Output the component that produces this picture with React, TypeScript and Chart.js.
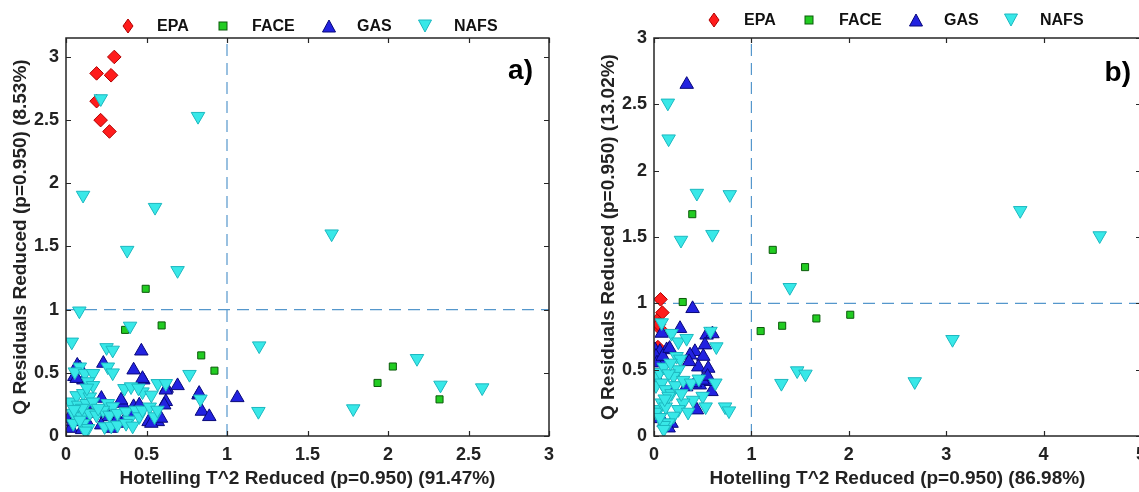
import React, { useEffect, useRef } from "react";
import { Chart, registerables } from "chart.js";
Chart.register(...registerables);

// ---------- Panel a data ----------
const EPA_A_X = [0.3, 0.19, 0.28, 0.19, 0.215, 0.27];
const EPA_A_Y = [3.0, 2.87, 2.855, 2.65, 2.5, 2.41];
const FACE_A_X = [0.495, 0.367, 0.594, 0.84, 0.922, 1.935, 2.03, 2.32];
const FACE_A_Y = [1.165, 0.84, 0.875, 0.638, 0.517, 0.42, 0.55, 0.29];
const GAS_A_X = [0.07, 0.052, 0.108, 0.232, 0.468, 0.42, 0.48, 0.625, 0.693, 0.823, 0.62, 1.064, 0.844, 0.89, 0.35, 0.42, 0.22, 0.018, 0.03, 0.13, 0.187, 0.265, 0.333, 0.42, 0.513, 0.57, 0.59, 0.086, 0.066, 0.475, 0.342, 0.455, 0.32, 0.363, 0.62, 0.61, 0.53, 0.827, 0.045, 0.219, 0.1, 0.16, 0.28];
const GAS_A_Y = [0.56, 0.47, 0.443, 0.575, 0.672, 0.522, 0.443, 0.377, 0.398, 0.324, 0.272, 0.303, 0.195, 0.153, 0.258, 0.232, 0.298, 0.139, 0.06, 0.113, 0.18, 0.153, 0.1, 0.18, 0.113, 0.113, 0.14, 0.54, 0.455, 0.455, 0.284, 0.245, 0.14, 0.126, 0.363, 0.245, 0.1, 0.337, 0.113, 0.087, 0.05, 0.25, 0.06];
const NAFS_A_X = [0.216, 0.82, 0.106, 0.553, 1.65, 0.38, 0.693, 0.083, 0.398, 0.036, 1.2, 0.252, 0.29, 2.18, 0.767, 2.326, 2.585, 1.195, 1.784, 0.835, 0.086, 0.055, 0.117, 0.168, 0.26, 0.29, 0.363, 0.404, 0.475, 0.137, 0.168, 0.025, 0.066, 0.107, 0.148, 0.076, 0.127, 0.168, 0.045, 0.096, 0.148, 0.189, 0.26, 0.29, 0.23, 0.27, 0.32, 0.373, 0.393, 0.434, 0.455, 0.475, 0.107, 0.137, 0.045, 0.24, 0.281, 0.32, 0.373, 0.414, 0.086, 0.57, 0.62, 0.53, 0.52, 0.55, 0.568, 0.12, 0.1, 0.2, 0.05, 0.13, 0.45];
const NAFS_A_Y = [2.67, 2.53, 1.906, 1.81, 1.6, 1.47, 1.31, 0.99, 0.87, 0.744, 0.714, 0.7, 0.68, 0.614, 0.488, 0.403, 0.382, 0.195, 0.216, 0.293, 0.547, 0.508, 0.495, 0.495, 0.547, 0.5, 0.376, 0.39, 0.35, 0.43, 0.4, 0.27, 0.32, 0.337, 0.31, 0.245, 0.258, 0.27, 0.18, 0.153, 0.18, 0.166, 0.258, 0.232, 0.205, 0.166, 0.18, 0.192, 0.126, 0.205, 0.153, 0.205, 0.1, 0.06, 0.1, 0.074, 0.079, 0.087, 0.1, 0.079, 0.126, 0.416, 0.416, 0.324, 0.23, 0.153, 0.205, 0.04, 0.22, 0.22, 0.21, 0.38, 0.38];

// ---------- Panel b data ----------
const EPA_B_X = [0.067, 0.086, 0.03, 0.06, 0.04, 0.05];
const EPA_B_Y = [1.03, 0.93, 0.87, 0.81, 0.67, 0.84];
const FACE_B_X = [0.393, 1.219, 1.551, 0.295, 1.095, 1.316, 1.667, 2.015];
const FACE_B_Y = [1.672, 1.403, 1.273, 1.01, 0.791, 0.831, 0.886, 0.914];
const GAS_B_X = [0.336, 0.396, 0.267, 0.079, 0.54, 0.523, 0.42, 0.37, 0.506, 0.455, 0.557, 0.01, 0.06, 0.13, 0.096, 0.59, 0.44, 0.54, 0.47, 0.18, 0.02, 0.04, 0.1, 0.05, 0.36, 0.5, 0.03, 0.15, 0.42, 0.2, 0.09, 0.55, 0.33, 0.6, 0.16];
const GAS_B_Y = [2.65, 0.96, 0.81, 0.774, 0.76, 0.686, 0.636, 0.61, 0.6, 0.52, 0.51, 0.65, 0.636, 0.65, 0.573, 0.334, 0.196, 0.41, 0.384, 0.095, 0.6, 0.42, 0.1, 0.13, 0.56, 0.42, 0.55, 0.06, 0.4, 0.35, 0.6, 0.45, 0.37, 0.77, 0.66];
const NAFS_B_X = [0.142, 0.15, 0.44, 0.778, 0.6, 0.277, 3.76, 4.576, 1.394, 3.065, 2.677, 1.308, 1.47, 1.555, 0.079, 0.18, 0.25, 0.335, 0.64, 0.232, 0.58, 0.27, 0.25, 0.2, 0.03, 0.06, 0.1, 0.15, 0.02, 0.08, 0.12, 0.18, 0.22, 0.3, 0.38, 0.46, 0.63, 0.5, 0.4, 0.3, 0.25, 0.2, 0.15, 0.1, 0.05, 0.02, 0.08, 0.12, 0.35, 0.53, 0.73, 0.77, 0.1, 0.15, 0.28, 0.06, 0.17, 0.11];
const NAFS_B_Y = [2.51, 2.24, 1.83, 1.82, 1.52, 1.476, 1.7, 1.51, 1.12, 0.728, 0.41, 0.397, 0.492, 0.467, 0.854, 0.774, 0.71, 0.736, 0.673, 0.6, 0.79, 0.58, 0.5, 0.45, 0.45, 0.48, 0.52, 0.47, 0.38, 0.4, 0.35, 0.32, 0.38, 0.42, 0.4, 0.43, 0.4, 0.3, 0.27, 0.25, 0.2, 0.15, 0.1, 0.08, 0.2, 0.18, 0.25, 0.22, 0.18, 0.22, 0.22, 0.19, 0.05, 0.3, 0.32, 0.14, 0.55, 0.28];

// ---------- Labels ----------
const SERIES_NAMES = ["EPA", "FACE", "GAS", "NAFS"];
const X_TITLE_A = "Hotelling T^2 Reduced (p=0.950) (91.47%)";
const Y_TITLE_A = "Q Residuals Reduced (p=0.950) (8.53%)";
const X_TITLE_B = "Hotelling T^2 Reduced (p=0.950) (86.98%)";
const Y_TITLE_B = "Q Residuals Reduced (p=0.950) (13.02%)";
const LIMIT_T2 = 1;
const LIMIT_Q = 1;

const FONT = '"Liberation Sans", Arial, Helvetica, sans-serif';
const TEXT_COLOR = "#222";
const COLORS = {
  EPA: { fill: "#ff1c1c", border: "#b00000" },
  FACE: { fill: "#22cc22", border: "#0a5a0a" },
  GAS: { fill: "#2222e0", border: "#08087a" },
  NAFS: { fill: "#38e8e8", border: "#1cb8c0" },
};
const DASH_COLOR = "#5597cc";

const zip = (xs: number[], ys: number[]) => xs.map((x, i) => ({ x, y: ys[i] }));
const fmt = (v: any) => String(+Number(v).toFixed(2));

const framePlugin = {
  id: "frame",
  afterDatasetsDraw(chart: any, _args: any, opts: any) {
    const { ctx, chartArea } = chart;
    const { left, right, top, bottom } = chartArea;
    const xs = chart.scales.x;
    const ys = chart.scales.y;
    ctx.save();
    ctx.strokeStyle = "#262626";
    ctx.lineWidth = 1.5;
    ctx.strokeRect(left, top, right - left, bottom - top);
    ctx.lineWidth = 1.2;
    ctx.beginPath();
    xs.ticks.forEach((t: any) => {
      const p = Math.round(xs.getPixelForValue(t.value)) + 0.5;
      ctx.moveTo(p, bottom); ctx.lineTo(p, bottom - 5);
      ctx.moveTo(p, top); ctx.lineTo(p, top + 5);
    });
    ys.ticks.forEach((t: any) => {
      const p = Math.round(ys.getPixelForValue(t.value)) + 0.5;
      ctx.moveTo(left, p); ctx.lineTo(left + 5, p);
      ctx.moveTo(right, p); ctx.lineTo(right - 5, p);
    });
    ctx.stroke();
    ctx.fillStyle = "#000";
    ctx.font = `bold 28px ${FONT}`;
    ctx.textAlign = "right";
    ctx.textBaseline = "middle";
    ctx.fillText(opts.label, right - opts.labelDx, top + opts.labelDy);
    ctx.restore();
  },
};

type PanelCfg = {
  epa: { x: number[]; y: number[] };
  face: { x: number[]; y: number[] };
  gas: { x: number[]; y: number[] };
  nafs: { x: number[]; y: number[] };
  xMax: number; yMax: number; xStep: number;
  xTitle: string; yTitle: string;
  yWidth: number; padRight: number; yTitlePad: number;
  label: string; labelDx: number; labelDy: number;
};

function buildConfig(c: PanelCfg): any {
  const pt = (name: keyof typeof COLORS, style: string, radius: number, rotation: number, order: number, d: { x: number[]; y: number[] }) => ({
    type: "scatter",
    label: name,
    data: zip(d.x, d.y),
    pointStyle: style,
    pointRadius: radius,
    pointRotation: rotation,
    pointBackgroundColor: COLORS[name].fill,
    pointBorderColor: COLORS[name].border,
    pointBorderWidth: 1,
    order,
  });
  const dash = (data: { x: number; y: number }[]) => ({
    type: "line",
    data,
    borderColor: DASH_COLOR,
    borderWidth: 1.2,
    borderDash: [12, 7],
    pointRadius: 0,
    fill: false,
    order: 10,
  });
  return {
    type: "scatter",
    data: {
      datasets: [
        dash([{ x: LIMIT_T2, y: 0 }, { x: LIMIT_T2, y: c.yMax }]),
        dash([{ x: 0, y: LIMIT_Q }, { x: c.xMax, y: LIMIT_Q }]),
        pt("EPA", "rectRot", 6.8, 0, 4, c.epa),
        pt("FACE", "rect", 5, 0, 3, c.face),
        pt("GAS", "triangle", 7.8, 0, 2, c.gas),
        pt("NAFS", "triangle", 7.8, 180, 1, c.nafs),
      ],
    },
    options: {
      responsive: false,
      animation: false,
      devicePixelRatio: 1,
      layout: { padding: { left: 0, right: c.padRight, top: 38, bottom: 0 } },
      plugins: {
        legend: { display: false },
        tooltip: { enabled: false },
        frame: { label: c.label, labelDx: c.labelDx, labelDy: c.labelDy },
      },
      events: [],
      scales: {
        x: {
          type: "linear",
          min: 0,
          max: c.xMax,
          grid: { display: false, drawTicks: false },
          border: { display: false },
          ticks: { stepSize: c.xStep, includeBounds: false, padding: 8, color: TEXT_COLOR, callback: fmt, font: { family: FONT, size: 18, weight: "bold" } },
          title: { display: true, text: c.xTitle, color: TEXT_COLOR, padding: { top: 0, bottom: 2 }, font: { family: FONT, size: 19, weight: "bold" } },
          afterFit: (s: any) => { s.height = 56; s.paddingLeft = 0; s.paddingRight = 0; },
        },
        y: {
          type: "linear",
          min: 0,
          max: c.yMax,
          grid: { display: false, drawTicks: false },
          border: { display: false },
          ticks: { stepSize: 0.5, includeBounds: false, padding: 7, color: TEXT_COLOR, callback: fmt, font: { family: FONT, size: 18, weight: "bold" } },
          title: { display: true, text: c.yTitle, color: TEXT_COLOR, padding: { top: c.yTitlePad, bottom: 0 }, font: { family: FONT, size: 19, weight: "bold" } },
          afterFit: (s: any) => { s.width = c.yWidth; s.paddingTop = 0; s.paddingBottom = 0; },
        },
      },
    },
    plugins: [framePlugin],
  };
}

const PANEL_A: PanelCfg = {
  epa: { x: EPA_A_X, y: EPA_A_Y }, face: { x: FACE_A_X, y: FACE_A_Y },
  gas: { x: GAS_A_X, y: GAS_A_Y }, nafs: { x: NAFS_A_X, y: NAFS_A_Y },
  xMax: 3, yMax: 3.15, xStep: 0.5, xTitle: X_TITLE_A, yTitle: Y_TITLE_A,
  yWidth: 66, padRight: 21, yTitlePad: 9, label: "a)", labelDx: 16, labelDy: 33,
};
const PANEL_B: PanelCfg = {
  epa: { x: EPA_B_X, y: EPA_B_Y }, face: { x: FACE_B_X, y: FACE_B_Y },
  gas: { x: GAS_B_X, y: GAS_B_Y }, nafs: { x: NAFS_B_X, y: NAFS_B_Y },
  xMax: 5, yMax: 3, xStep: 1, xTitle: X_TITLE_B, yTitle: Y_TITLE_B,
  yWidth: 84, padRight: 9, yTitlePad: 27, label: "b)", labelDx: 10, labelDy: 35,
};

function Marker({ name }: { name: string }) {
  const c = (COLORS as any)[name];
  if (name === "EPA")
    return <svg width="12" height="16"><polygon points="6,1 11,8 6,15 1,8" fill={c.fill} stroke={c.border} strokeWidth="1" /></svg>;
  if (name === "FACE")
    return <svg width="10" height="10"><rect x="1" y="1" width="8" height="8" fill={c.fill} stroke={c.border} strokeWidth="1" /></svg>;
  if (name === "GAS")
    return <svg width="15" height="14"><polygon points="7.5,1 14,13 1,13" fill={c.fill} stroke={c.border} strokeWidth="1" /></svg>;
  return <svg width="15" height="14"><polygon points="1,1 14,1 7.5,13" fill={c.fill} stroke={c.border} strokeWidth="1" /></svg>;
}

function Legend({ markerX, textX, cy }: { markerX: number[]; textX: number[]; cy: number }) {
  return (
    <>
      {SERIES_NAMES.map((n, i) => (
        <React.Fragment key={n}>
          <div style={{ position: "absolute", left: markerX[i], top: cy, transform: "translate(-50%,-50%)", lineHeight: 0 }}>
            <Marker name={n} />
          </div>
          <div style={{ position: "absolute", left: textX[i], top: cy, transform: "translateY(-50%)", font: `bold 16px ${FONT}`, color: "#111", whiteSpace: "nowrap" }}>
            {n}
          </div>
        </React.Fragment>
      ))}
    </>
  );
}

function Panel({ cfg, left, width }: { cfg: PanelCfg; left: number; width: number }) {
  const ref = useRef<HTMLCanvasElement>(null);
  useEffect(() => {
    const chart = new Chart(ref.current as HTMLCanvasElement, buildConfig(cfg));
    return () => chart.destroy();
  }, [cfg]);
  return (
    <div style={{ position: "absolute", left, top: 0, width, height: 492 }}>
      <canvas ref={ref} width={width} height={492} style={{ width, height: 492, display: "block" }} />
    </div>
  );
}

export default function App() {
  return (
    <div style={{ position: "fixed", left: 0, top: 0, width: 1139, height: 492, overflow: "hidden", background: "#fff" }}>
      <Panel cfg={PANEL_A} left={0} width={570} />
      <Panel cfg={PANEL_B} left={570} width={580} />
      <Legend markerX={[128, 223, 329, 425]} textX={[157, 252, 357, 454]} cy={26} />
      <Legend markerX={[714, 809, 916, 1011]} textX={[744, 839, 944, 1040]} cy={20} />
    </div>
  );
}
